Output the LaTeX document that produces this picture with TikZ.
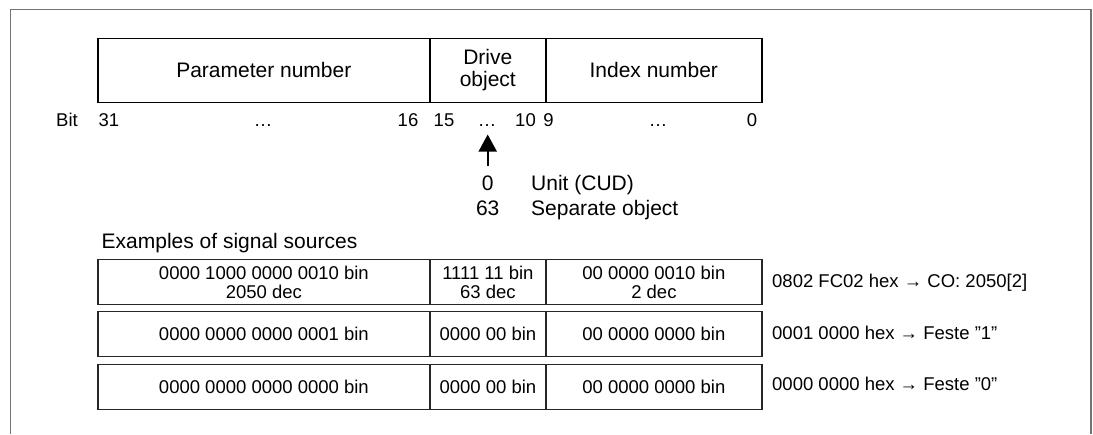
\documentclass[tikz,border=0pt]{standalone}
\usepackage{fontspec}
\setmainfont{Liberation Sans}
\usetikzlibrary{arrows.meta}
\begin{document}
\begin{tikzpicture}[x=1pt,y=-1pt,
  cellbox/.style={draw=black,line width=1.6pt,minimum height=#1,inner sep=0pt,anchor=north west,align=center},
  cellbox/.default=64pt,
  big/.style={font=\fontsize{21}{23}\selectfont},
  small/.style={font=\fontsize{18.5}{20}\selectfont},
  bitlbl/.style={font=\fontsize{18.5}{21}\selectfont,inner sep=0pt,anchor=base},
  lbl/.style={inner sep=0pt,anchor=base west},
  rowbox/.style={draw=black!85,line width=1.8pt,minimum height=45pt,inner sep=0pt,anchor=north west,align=center,small}
]
\useasboundingbox (0,0) rectangle (1093,434);
% outer frame
\draw[black!55,line width=1.5pt] (10.5,434) -- (10.5,9.5) -- (1091,9.5) -- (1091,434);
% top word layout
\node[cellbox,minimum width=332pt,big] (par) at (97,37.5) {Parameter number};
\node[cellbox,minimum width=116pt,big] (drv) at (429,37.5) {Drive\\[-1pt]object};
\node[cellbox,minimum width=216pt,big] (idx) at (545,37.5) {Index number};
% bit labels
\node[bitlbl] (bit) at (67,126) {Bit};
\node[bitlbl] (b31) at (109,126) {31};
\node[bitlbl] (d1) at (263,126) {…};
\node[bitlbl] (b16) at (408,126) {16};
\node[bitlbl] (b15) at (444,126) {15};
\node[bitlbl] (d2) at (487,126) {…};
\node[bitlbl] (b10) at (525.5,126) {10};
\node[bitlbl] (b9) at (548.5,126) {9};
\node[bitlbl] (d3) at (658,126) {…};
\node[bitlbl] (b0) at (752,126) {0};
% arrow and drive object values
\coordinate (tip) at (487.7,134.5);
\node[big,inner sep=0pt,anchor=base] (v0) at (487.7,190.5) {0};
\node[big,inner sep=0pt,anchor=base] (v63) at (487.7,215.5) {63};
\node[big,lbl] (t0) at (531,190.5) {Unit (CUD)};
\node[big,lbl] (t63) at (531,215.5) {Separate object};
\draw[line width=1.8pt,-{Triangle[width=18pt,length=17pt]}] (487.7,166) -- (tip);
% examples
\node[big,lbl] (ex) at (101.5,248) {Examples of signal sources};
% row 1
\node[rowbox,minimum width=332pt] (r1a) at (97,258.5) {0000 1000 0000 0010 bin\\[-1pt]2050 dec};
\node[rowbox,minimum width=116pt] (r1b) at (429,258.5) {1111 11 bin\\[-1pt]63 dec};
\node[rowbox,minimum width=216pt] (r1c) at (545,258.5) {00 0000 0010 bin\\[-1pt]2 dec};
\node[small,lbl] (h1) at (772,287) {0802 FC02 hex → CO: 2050[2]};
% row 2
\node[rowbox,minimum width=332pt] (r2a) at (97,310.5) {0000 0000 0000 0001 bin};
\node[rowbox,minimum width=116pt] (r2b) at (429,310.5) {0000 00 bin};
\node[rowbox,minimum width=216pt] (r2c) at (545,310.5) {00 0000 0000 bin};
\node[small,lbl] (h2) at (772,339.5) {0001 0000 hex → Feste ”1”};
% row 3
\node[rowbox,minimum width=332pt] (r3a) at (97,363.5) {0000 0000 0000 0000 bin};
\node[rowbox,minimum width=116pt] (r3b) at (429,363.5) {0000 00 bin};
\node[rowbox,minimum width=216pt] (r3c) at (545,363.5) {00 0000 0000 bin};
\node[small,lbl] (h3) at (772,390.5) {0000 0000 hex → Feste ”0”};
\end{tikzpicture}
\end{document}
